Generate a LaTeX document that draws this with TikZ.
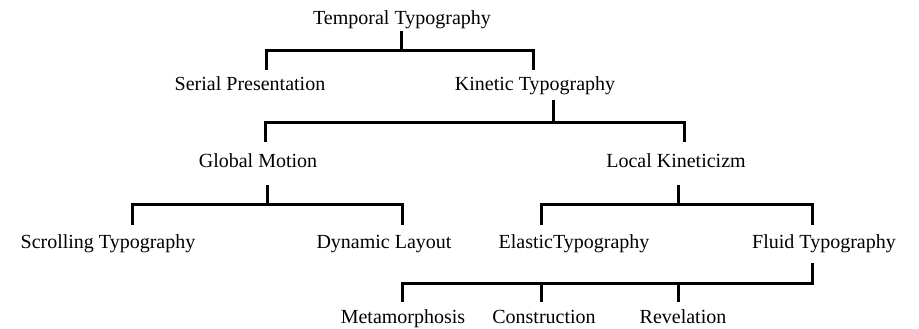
\documentclass[tikz,border=0pt]{standalone}
\usepackage{fontspec}
\setmainfont{Liberation Serif}
\begin{document}
\begin{tikzpicture}[x=1pt,y=-1pt,
  lbl/.style={anchor=base,inner sep=0pt,font=\fontsize{20}{24}\selectfont},
  conn/.style={line width=3pt,line join=miter,draw=black}]
\useasboundingbox (0,0) rectangle (919,329);
% labels
\node[lbl] (tt) at (402,25) {Temporal Typography};
\node[lbl] (sp) at (250,91) {Serial Presentation};
\node[lbl] (kt) at (535,91) {Kinetic Typography};
\node[lbl] (gm) at (258,167) {Global Motion};
\node[lbl] (lk) at (676,167) {Local Kineticizm};
\node[lbl] (st) at (108,248) {Scrolling Typography};
\node[lbl] (dl) at (384,248) {Dynamic Layout};
\node[lbl] (et) at (574,248) {ElasticTypography};
\node[lbl] (ft) at (824,248) {Fluid Typography};
\node[lbl] (mp) at (403,323) {Metamorphosis};
\node[lbl] (cs) at (544,323) {Construction};
\node[lbl] (rv) at (683,323) {Revelation};
% connector points
\coordinate (tt-out) at (401,31);
\coordinate (tt-bar) at (401,51);
\coordinate (sp-in) at (266,70);
\coordinate (kt-in) at (533,70);
\coordinate (kt-out) at (553,100);
\coordinate (kt-bar) at (553,122);
\coordinate (gm-in) at (265,142);
\coordinate (lk-in) at (684,142);
\coordinate (gm-out) at (267,185);
\coordinate (gm-bar) at (267,204);
\coordinate (st-in) at (132,225);
\coordinate (dl-in) at (402,225);
\coordinate (lk-out) at (678,185);
\coordinate (lk-bar) at (678,204);
\coordinate (et-in) at (541,225);
\coordinate (ft-in) at (812,225);
\coordinate (ft-out) at (812,263);
\coordinate (ft-bar) at (812,283);
\coordinate (mp-in) at (402,302);
\coordinate (cs-in) at (541,302);
\coordinate (rv-in) at (678,302);
% connectors
\draw[conn] (tt-out) -- (tt-bar);
\draw[conn] (sp-in) |- (tt-bar) -| (kt-in);
\draw[conn] (kt-out) -- (kt-bar);
\draw[conn] (gm-in) |- (kt-bar) -| (lk-in);
\draw[conn] (gm-out) -- (gm-bar);
\draw[conn] (st-in) |- (gm-bar) -| (dl-in);
\draw[conn] (lk-out) -- (lk-bar);
\draw[conn] (et-in) |- (lk-bar) -| (ft-in);
\draw[conn] (ft-out) -- (ft-bar) -| (mp-in);
\draw[conn] (cs-in) -- (cs-in |- ft-bar);
\draw[conn] (rv-in) -- (rv-in |- ft-bar);
\end{tikzpicture}
\end{document}
